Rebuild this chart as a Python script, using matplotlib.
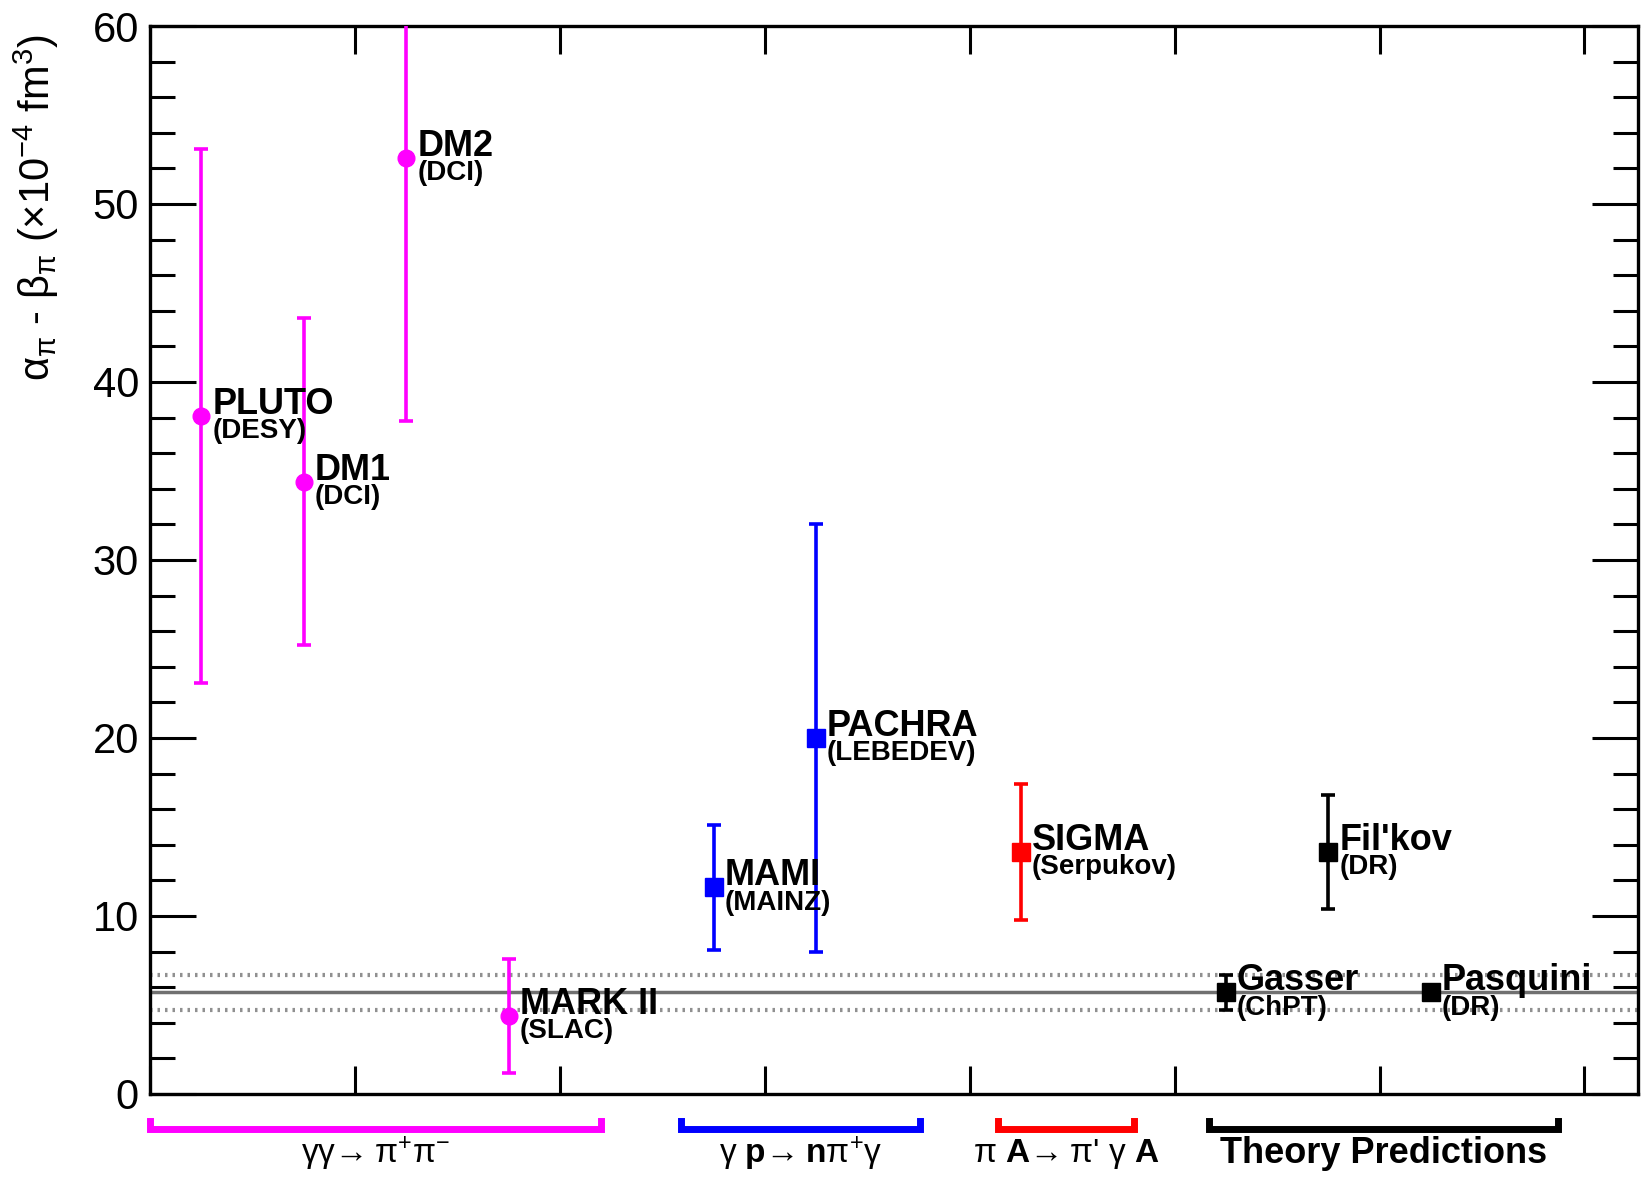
import matplotlib
matplotlib.use('Agg')
import matplotlib.pyplot as plt
import matplotlib.transforms as mtransforms
from matplotlib.ticker import MultipleLocator

plt.rcParams['font.family'] = ['Liberation Sans', 'DejaVu Sans']
plt.rcParams['mathtext.fontset'] = 'custom'
plt.rcParams['mathtext.rm'] = 'Liberation Sans'
plt.rcParams['mathtext.it'] = 'Liberation Sans'
plt.rcParams['mathtext.bf'] = 'Liberation Sans:bold'

# measurements / predictions of alpha_pi - beta_pi
names = ['PLUTO', 'DM1', 'DM2', 'MARK II', 'MAMI', 'PACHRA', 'SIGMA',
         'Gasser', "Fil'kov", 'Pasquini']
labs = ['(DESY)', '(DCI)', '(DCI)', '(SLAC)', '(MAINZ)', '(LEBEDEV)',
        '(Serpukov)', '(ChPT)', '(DR)', '(DR)']
xpos = [0.25, 0.75, 1.25, 1.75, 2.75, 3.25, 4.25, 5.25, 5.75, 6.25]
vals = [38.1, 34.4, 52.6, 4.4, 11.6, 20.0, 13.6, 5.7, 13.6, 5.7]
errs = [15.0, 9.2, 14.8, 3.2, 3.5, 12.0, 3.8, 1.0, 3.2, 0.0]
cols = ['#ff00ff'] * 4 + ['#0000ff'] * 2 + ['#ff0000'] + ['black'] * 3
mark = ['o'] * 4 + ['s'] * 6

band_val = 5.7
band_err = 1.0

groups = ['γγ→\u2009π$^{+}$π$^{-}$',
          'γ $\\mathbf{p}$→\u2009$\\mathbf{n}$π$^{+}$γ',
          "π $\\mathbf{A}$→\u2009π' γ $\\mathbf{A}$",
          'Theory Predictions']
grp_bold = [False, False, False, True]
grp_size = [24, 24, 24, 26]
grp_lo = [0.0, 2.59, 4.14, 5.17]
grp_hi = [2.2, 3.76, 4.80, 6.87]
grp_col = ['#ff00ff', '#0000ff', '#ff0000', 'black']

fig = plt.figure(figsize=(16.41, 11.82), dpi=100)
ax = fig.add_axes([0.0914, 0.0745, 0.9066, 0.9035])

ax.axhline(band_val, color='#707070', lw=2.5, zorder=1)
ax.axhline(band_val + band_err, color='#909090', lw=3, ls=(0, (0.6, 1.2)), zorder=1)
ax.axhline(band_val - band_err, color='#909090', lw=3, ls=(0, (0.6, 1.2)), zorder=1)

for i in range(len(names)):
    ax.errorbar(xpos[i], vals[i], yerr=errs[i], fmt=mark[i], color=cols[i],
                ms=13 if mark[i] == 's' else 12, elinewidth=2.6,
                capsize=5, capthick=2.6, zorder=3)
    ax.annotate(names[i], (xpos[i], vals[i]), xytext=(8, 1.5),
                textcoords='offset points', fontsize=26, fontweight='bold',
                ha='left', va='baseline', zorder=4)
    ax.annotate(labs[i], (xpos[i], vals[i]), xytext=(8, -1.5),
                textcoords='offset points', fontsize=20, fontweight='bold',
                ha='left', va='top', zorder=4)

ax.set_xlim(0, 7.26)
ax.set_ylim(0, 60)
ax.xaxis.set_major_locator(MultipleLocator(1))
ax.yaxis.set_major_locator(MultipleLocator(10))
ax.yaxis.set_minor_locator(MultipleLocator(2))
ax.tick_params(axis='both', which='both', direction='in', width=2.2,
               top=True, right=True)
ax.tick_params(axis='x', which='major', length=20, labelbottom=False)
ax.tick_params(axis='y', which='major', length=33, labelsize=30, pad=8)
ax.tick_params(axis='y', which='minor', length=18)
for s in ax.spines.values():
    s.set_linewidth(2.4)

ax.set_ylabel(r'$\alpha_{\pi}$ - $\beta_{\pi}$ ($\times$10$^{-4}$ fm$^{3}$)',
              fontsize=30)
ax.yaxis.set_label_coords(-0.06, 0.83)

# group brackets under the axis
tr = mtransforms.blended_transform_factory(ax.transData, ax.transAxes)
for i in range(len(groups)):
    ax.plot([grp_lo[i], grp_lo[i], grp_hi[i], grp_hi[i]],
            [-0.025, -0.033, -0.033, -0.025], transform=tr, color=grp_col[i],
            lw=5, clip_on=False, solid_joinstyle='miter')
    ax.text((grp_lo[i] + grp_hi[i]) / 2, -0.056, groups[i], transform=tr,
            ha='center', va='center', fontsize=grp_size[i],
            fontweight='bold' if grp_bold[i] else 'normal')

fig.savefig('out.png', dpi=100)
